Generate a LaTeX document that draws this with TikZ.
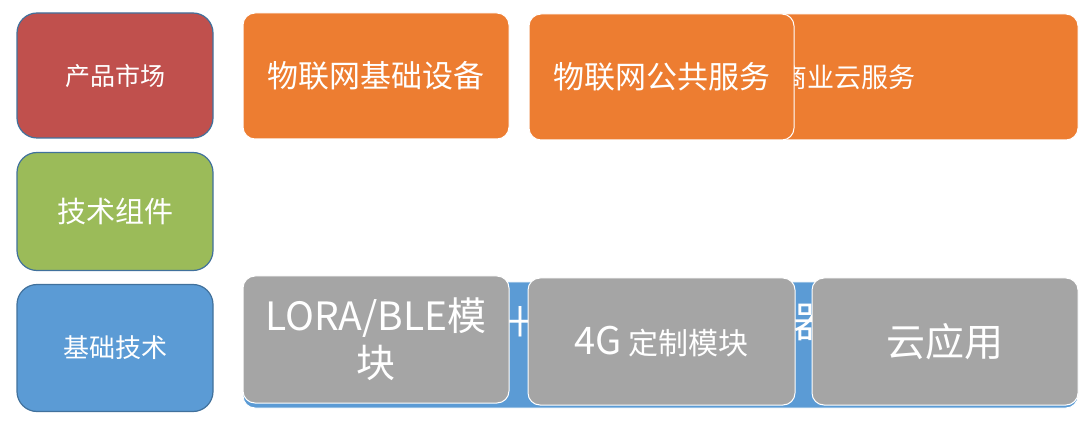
\documentclass[tikz,border=0pt]{standalone}
\usepackage{fontspec}
\setmainfont{Noto Sans CJK SC}
\definecolor{marketred}{HTML}{C0504D}
\definecolor{partgreen}{HTML}{9BBB59}
\definecolor{baseblue}{HTML}{5B9BD5}
\definecolor{layerline}{HTML}{41719C}
\definecolor{serviceorange}{HTML}{ED7D31}
\definecolor{modulegray}{HTML}{A5A5A5}
\newcommand{\fsize}[1]{\fontsize{#1pt}{1.2\dimexpr#1pt\relax}\selectfont}

\begin{document}
\begin{tikzpicture}[x=1pt, y=-1pt,
	layer/.style={draw=layerline, line width=1.2pt, rounded corners=20pt, minimum width=196pt, text=white, inner sep=0pt},
	block/.style={draw=white, line width=1pt, rounded corners=12pt, text=white, inner sep=0pt, align=center}]
	
	\useasboundingbox (0,0) rectangle (1091,427);
	
	\node[layer, fill=marketred, minimum height=125pt, font=\fsize{25}] (market) at (115,75.5) {产品市场};
	\node[layer, fill=partgreen, minimum height=118pt, font=\fsize{29}] (component) at (115,211.5) {技术组件};
	\node[layer, fill=baseblue, minimum height=127pt, font=\fsize{26}] (basic) at (115,348) {基础技术};
	
	\node[block, fill=serviceorange, minimum width=266pt, minimum height=126pt, font=\fsize{31}] (iotDevice) at (376,76) {物联网基础设备};
	\node[block, fill=serviceorange, minimum width=460pt, minimum height=126pt, font=\fsize{27}] (cloudBiz) at (848,77) {商业云服务};
	\node[block, fill=serviceorange, minimum width=265pt, minimum height=126pt, font=\fsize{31}] (iotPublic) at (661.5,77) {物联网公共服务};
	
	\node[block, fill=baseblue, minimum width=835pt, minimum height=126pt] (baseBar) at (660.5,345) {};
	\node[anchor=west, inner sep=0pt, text=white, font=\fsize{42}] (barText) at (289,322) {嵌入式终端＋物联网云服务器};
	
	\node[block, fill=modulegray, minimum width=266pt, minimum height=127pt, font=\fontsize{39pt}{47pt}\selectfont] (lora) at (376,339.5) {LORA/BLE模\\块};
	\node[block, fill=modulegray, minimum width=267pt, minimum height=127pt, font=\fsize{30}] (custom4g) at (661.5,341.5) {\raisebox{-3pt}{\fsize{38}4G} \raisebox{-3pt}{定制模块}};
	\node[block, fill=modulegray, minimum width=266pt, minimum height=127pt, font=\fsize{39}] (cloudApp) at (945,341.5) {云应用};
	
\end{tikzpicture}
\end{document}
